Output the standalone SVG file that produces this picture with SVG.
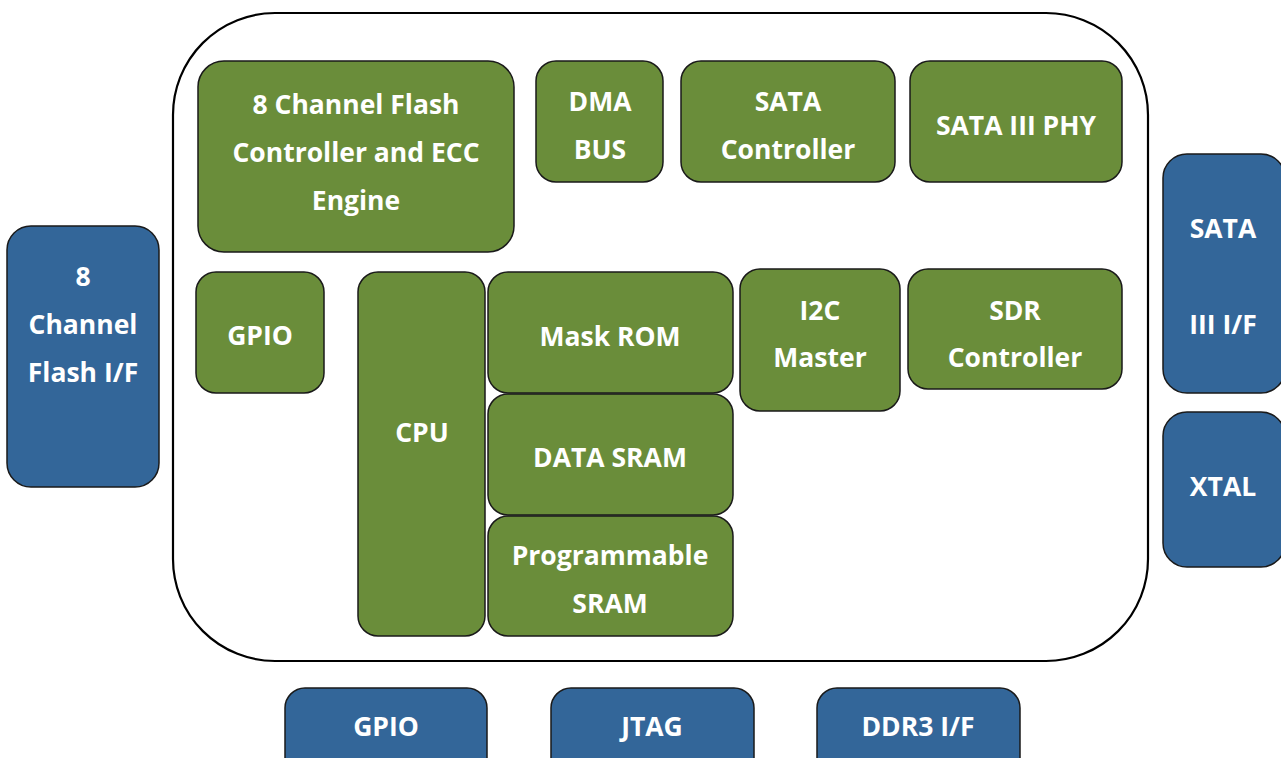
<svg xmlns="http://www.w3.org/2000/svg" width="1281" height="758" viewBox="0 0 1281 758">
<style>
.g{fill:#6A8D3A;stroke:#1a1a1a;stroke-width:1.5}
.b{fill:#336699;stroke:#1a1a1a;stroke-width:1.5}
text{font-family:"Open Sans","Liberation Sans",sans-serif;font-weight:bold;font-size:26.5px;fill:#fff;text-anchor:middle}
</style>
<rect width="1281" height="758" fill="#fff"/>
<g id="chip"><rect x="173" y="13" width="975" height="648" rx="102" ry="102" fill="#fff" stroke="#000" stroke-width="2.2"/></g>
<g id="flashctl"><rect class="g" x="198" y="61" width="316" height="191" rx="26"/><text x="356" y="114">8 Channel Flash</text><text x="356" y="162">Controller and ECC</text><text x="356" y="210">Engine</text></g>
<g id="dma"><rect class="g" x="536" y="61" width="127" height="121" rx="20"/><text x="600" y="111">DMA</text><text x="600" y="159">BUS</text></g>
<g id="satactl"><rect class="g" x="681" y="61" width="214" height="121" rx="20"/><text x="788" y="111">SATA</text><text x="788" y="159">Controller</text></g>
<g id="sataphy"><rect class="g" x="910" y="61" width="212" height="121" rx="20"/><text x="1016" y="135">SATA III PHY</text></g>
<g id="gpio_in"><rect class="g" x="196" y="272" width="128" height="121" rx="20"/><text x="260" y="345">GPIO</text></g>
<g id="cpu"><rect class="g" x="358" y="272" width="127" height="364" rx="20"/><text x="422" y="442">CPU</text></g>
<g id="maskrom"><rect class="g" x="488" y="272" width="245" height="121" rx="20"/><text x="610" y="346">Mask ROM</text></g>
<g id="datasram"><rect class="g" x="488" y="394" width="245" height="121" rx="20"/><text x="610" y="467">DATA SRAM</text></g>
<g id="progsram"><rect class="g" x="488" y="516" width="245" height="120" rx="20"/><text x="610" y="565">Programmable</text><text x="610" y="613">SRAM</text></g>
<g id="i2c"><rect class="g" x="740" y="269" width="160" height="142" rx="20"/><text x="820" y="320">I2C</text><text x="820" y="367">Master</text></g>
<g id="sdr"><rect class="g" x="908" y="269" width="214" height="120" rx="20"/><text x="1015" y="320">SDR</text><text x="1015" y="367">Controller</text></g>
<g id="flashif"><rect class="b" x="7" y="226" width="152" height="261" rx="24"/><text x="83" y="286">8</text><text x="83" y="334">Channel</text><text x="83" y="382">Flash I/F</text></g>
<g id="sataif"><rect class="b" x="1163" y="154" width="122" height="239" rx="24"/><text x="1223" y="238">SATA</text><text x="1223" y="334">III I/F</text></g>
<g id="xtal"><rect class="b" x="1163" y="412" width="122" height="155" rx="24"/><text x="1223" y="496">XTAL</text></g>
<g id="gpio_out"><rect class="b" x="285" y="688" width="202" height="90" rx="20"/><text x="386" y="736">GPIO</text></g>
<g id="jtag"><rect class="b" x="551" y="688" width="203" height="90" rx="20"/><text x="652" y="736">JTAG</text></g>
<g id="ddr3"><rect class="b" x="817" y="688" width="203" height="90" rx="20"/><text x="918" y="736">DDR3 I/F</text></g>
<g id="connectors"></g>
</svg>
